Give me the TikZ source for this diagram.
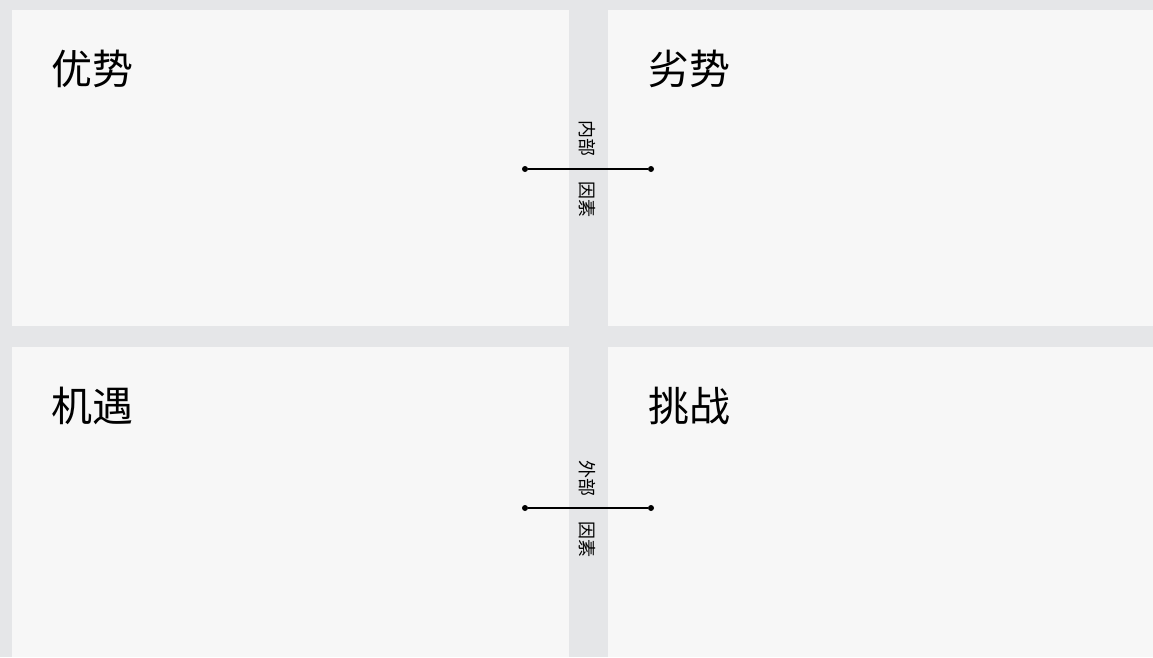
\documentclass[tikz,border=0pt]{standalone}
\usepackage{fontspec}
\newfontfamily\cjk{Noto Sans CJK SC}
\definecolor{bggray}{HTML}{E5E6E8}
\definecolor{panelgray}{HTML}{F7F7F7}
\begin{document}
\begin{tikzpicture}[x=1pt, y=-1pt, title/.style={font=\cjk\fontsize{41}{41}\selectfont, anchor=west, inner sep=0pt}, tag/.style={font=\cjk\fontsize{18}{18}\selectfont, rotate=-90, inner sep=0pt}, dot/.style={circle, fill=black, inner sep=0pt, minimum size=6pt}, axis/.style={line width=1.3pt}]
		\fill[bggray] (0, 0) rectangle (1153, 657);
		\fill[panelgray] (12, 10) rectangle (569, 326);
		\fill[panelgray] (608, 10) rectangle (1153, 326);
		\fill[panelgray] (12, 347) rectangle (569, 657);
		\fill[panelgray] (608, 347) rectangle (1153, 657);
		\node[title] (s) at (51, 69) {优势};
		\node[title] (w) at (648, 69) {劣势};
		\node[title] (o) at (51, 406) {机遇};
		\node[title] (t) at (648, 406) {挑战};
		\node[tag] (inner) at (587.5, 138) {内部};
		\node[tag] (innerf) at (587.5, 199) {因素};
		\node[tag] (outer) at (587.5, 478) {外部};
		\node[tag] (outerf) at (587.5, 539) {因素};
		\node[dot] (inl) at (525, 169) {};
		\node[dot] (inr) at (651, 169) {};
		\node[dot] (outl) at (525, 508) {};
		\node[dot] (outr) at (651, 508) {};
		\draw[axis] (inl) -- (inr);
		\draw[axis] (outl) -- (outr);
	\end{tikzpicture}
\end{document}
